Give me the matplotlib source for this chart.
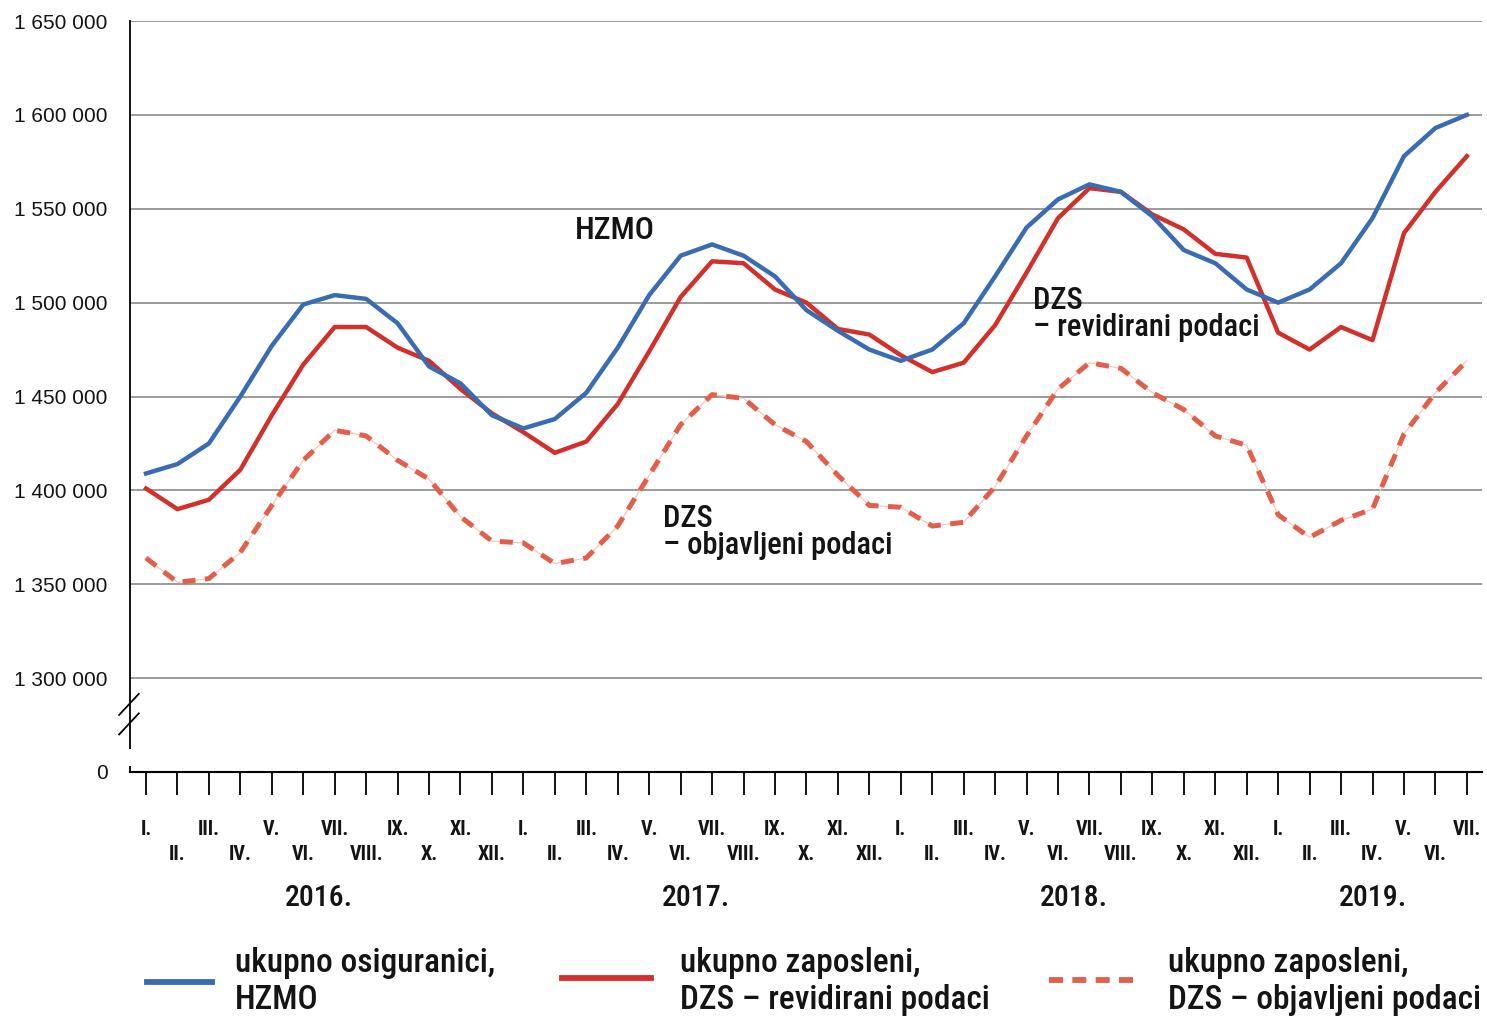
"""Osiguranici HZMO vs zaposleni DZS (revidirani / objavljeni), 2016.-2019."""
import os
import numpy as np
import matplotlib
matplotlib.use("Agg")
import matplotlib.pyplot as plt
from matplotlib import font_manager as fm
from matplotlib.lines import Line2D
from matplotlib.transforms import blended_transform_factory

# --- data (thousands of persons), monthly I.2016 - VII.2019 ---
months = ["I.", "II.", "III.", "IV.", "V.", "VI.", "VII.", "VIII.",
          "IX.", "X.", "XI.", "XII."]
years = ["2016.", "2017.", "2018.", "2019."]
year_center = [5.5, 17.5, 29.5, 39.0]

hzmo = [1409, 1414, 1425, 1450, 1477, 1499, 1504, 1502, 1489, 1466, 1457, 1440,
        1433, 1438, 1452, 1476, 1504, 1525, 1531, 1525, 1514, 1496, 1485, 1475,
        1469, 1475, 1489, 1514, 1540, 1555, 1563, 1559, 1546, 1528, 1521, 1507,
        1500, 1507, 1521, 1545, 1578, 1593, 1600]
dzs_rev = [1401, 1390, 1395, 1411, 1440, 1467, 1487, 1487, 1476, 1469, 1454, 1441,
           1431, 1420, 1426, 1446, 1474, 1503, 1522, 1521, 1507, 1500, 1486, 1483,
           1472, 1463, 1468, 1488, 1516, 1545, 1561, 1559, 1547, 1539, 1526, 1524,
           1484, 1475, 1487, 1480, 1537, 1559, 1578]
dzs_obj = [1364, 1351, 1353, 1367, 1392, 1416, 1432, 1429, 1416, 1406, 1386, 1373,
           1372, 1361, 1364, 1381, 1408, 1435, 1451, 1449, 1435, 1426, 1408, 1392,
           1391, 1381, 1383, 1402, 1429, 1454, 1468, 1465, 1452, 1443, 1429, 1424,
           1387, 1375, 1384, 1390, 1430, 1452, 1469]

y_ticks = [1250000, 1300000, 1350000, 1400000, 1450000, 1500000, 1550000,
           1600000, 1650000]
y_labels = ["0"] + [f"{v:,}".replace(",", " ") for v in y_ticks[1:]]

BLUE = "#3a6cb2"
RED = "#d1302b"
ORANGE = "#e0604c"
INK = "#141414"


def pick_condensed(weights):
    """Look for an installed condensed / narrow sans face of a given weight."""
    prio = ["roboto", "liberation", "noto sans", "dejavu", "open sans", "lato"]
    found = []
    for f in fm.fontManager.ttflist:
        tag = (f.name + " " + os.path.basename(f.fname)).lower()
        if f.style != "normal" or "mono" in tag or "cjk" in tag:
            continue
        if "serif" in tag and "sans" not in tag:
            continue
        if not ("condensed" in tag or "narrow" in tag
                or f.stretch in ("condensed", "semi-condensed")):
            continue
        if any(k in tag for k in ("extra", "ultra", "semi", "thin", "black")):
            continue
        w = f.weight if isinstance(f.weight, int) else (700 if f.weight == "bold" else 400)
        if w not in weights:
            continue
        rank = next((i for i, p in enumerate(prio) if p in tag), len(prio))
        found.append((rank, weights.index(w), f.fname))
    if found:
        return fm.FontProperties(fname=sorted(found)[0][2])
    return fm.FontProperties(family="Roboto", weight="bold" if 700 in weights else "normal")


COND = pick_condensed([500, 400])
COND_B = pick_condensed([700, 600])
REG = fm.FontProperties(family="Liberation Sans")


def fp(base, size):
    p = base.copy()
    p.set_size(size)
    return p


n = len(hzmo)
x = np.arange(n)
month_labels = [months[i % 12] for i in range(n)]
month_labels = [lab if i % 2 == 0 else "\n" + lab for i, lab in enumerate(month_labels)]

fig = plt.figure(figsize=(14.87, 10.21), dpi=100)
ax = fig.add_axes([0.0874, 0.2439, 0.9092, 0.7355])

ax.plot(x, np.array(dzs_obj) * 1000, color="#f6c9bf", lw=0.9, zorder=2)
ax.plot(x, np.array(dzs_obj) * 1000, color=ORANGE, lw=3.6, ls=(0, (2.6, 1.9)),
        zorder=3)
ax.plot(x, np.array(dzs_rev) * 1000, color=RED, lw=3.2, zorder=4)
ax.plot(x, np.array(hzmo) * 1000, color=BLUE, lw=3.2, zorder=5)

ax.set_xlim(-0.51, 42.48)
ax.set_ylim(1250000, 1650000)
ax.set_yticks(y_ticks)
ax.set_yticklabels(y_labels, fontproperties=fp(REG, 15), color=INK)
ax.tick_params(axis="y", length=0, pad=16)
ax.set_xticks(x)
ax.set_xticklabels(month_labels, fontproperties=fp(COND_B, 14.5),
                   linespacing=1.38, color=INK)
ax.tick_params(axis="x", length=16.5, width=1.3, pad=18, direction="out")
ax.grid(axis="y", color="#8a8a8a", lw=1.2)
ax.set_axisbelow(True)
for s in ("top", "right"):
    ax.spines[s].set_visible(False)
ax.spines["left"].set_linewidth(1.3)
ax.spines["bottom"].set_linewidth(1.5)

# axis break on the y axis
ax.plot([-0.51, -0.51], [1253000, 1262000], color="white", lw=4, zorder=6,
        clip_on=False, solid_capstyle="butt")
tr = ax.transAxes
for dy in (0.0, 0.026):
    ax.add_line(Line2D([-0.008, 0.0065], [0.05 + dy, 0.078 + dy], transform=tr,
                       color="black", lw=1.3, clip_on=False, zorder=7))

# year labels
yt = blended_transform_factory(ax.transData, ax.transAxes)
for xc, yr in zip(year_center, years):
    ax.text(xc, -0.168, yr, transform=yt, ha="center", va="center",
            fontproperties=fp(COND, 21.5), color=INK)

# series annotations
ax.text(13.65, 1538500, "HZMO", fontproperties=fp(COND, 23), va="center", color=INK)
ax.text(28.2, 1509000, "DZS\n– revidirani podaci", fontproperties=fp(COND, 22),
        va="top", linespacing=0.92, color=INK)
ax.text(16.45, 1393000, "DZS\n– objavljeni podaci", fontproperties=fp(COND, 22),
        va="top", linespacing=0.92, color=INK)

# legend drawn at figure level
W, H = 1487, 1021
legend = [
    (147, 212, 982, dict(color=BLUE, lw=4.2), 235, "ukupno osiguranici,\nHZMO"),
    (562, 651, 978, dict(color=RED, lw=4.2), 680, "ukupno zaposleni,\nDZS – revidirani podaci"),
    (1049, 1140, 980, dict(color=ORANGE, lw=4.2, ls=(0, (2.4, 1.6))), 1168,
     "ukupno zaposleni,\nDZS – objavljeni podaci"),
]
for x0, x1, yy, style, tx, label in legend:
    fig.add_artist(Line2D([x0 / W, x1 / W], [1 - yy / H, 1 - yy / H], **style))
    fig.text(tx / W, 1 - 981 / H, label, fontproperties=fp(COND, 24), va="center",
             linespacing=1.2, color=INK)

fig.savefig("out.png", dpi=100)
